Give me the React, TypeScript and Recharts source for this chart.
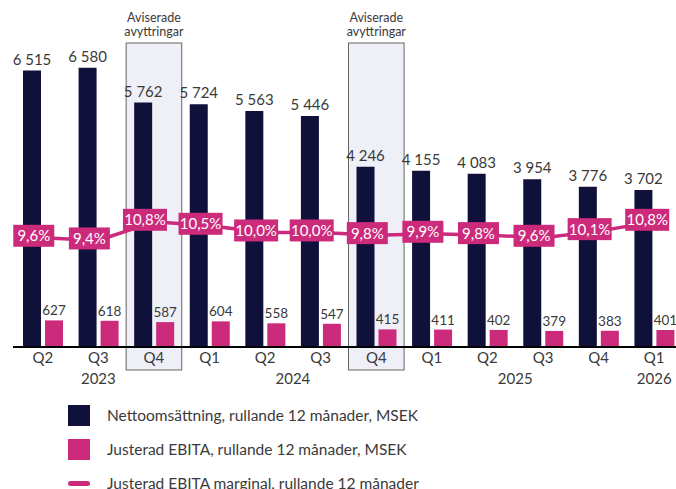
import React from "react";
import {
    ComposedChart,
    Bar,
    Line,
    XAxis,
    YAxis,
    LabelList,
    ReferenceArea,
    Legend,
} from "recharts";

const quarters = ["Q2", "Q3", "Q4", "Q1", "Q2", "Q3", "Q4", "Q1", "Q2", "Q3", "Q4", "Q1"];
const years = ["2023", "2023", "2023", "2024", "2024", "2024", "2024", "2025", "2025", "2025", "2025", "2026"];
const netSales = [6515, 6580, 5762, 5724, 5563, 5446, 4246, 4155, 4083, 3954, 3776, 3702];
const ebita = [627, 618, 587, 604, 558, 547, 415, 411, 402, 379, 383, 401];
const ebitaMargin = [9.6, 9.4, 10.8, 10.5, 10.0, 10.0, 9.8, 9.9, 9.8, 9.6, 10.1, 10.8];
const divested = ["Q4 2023", "Q4 2024"];
const legendLabels = [
    "Nettoomsättning, rullande 12 månader, MSEK",
    "Justerad EBITA, rullande 12 månader, MSEK",
    "Justerad EBITA marginal, rullande 12 månader",
];

const NAVY = "#10113b";
const PINK = "#cc2a7b";
const TEXT = "#3a3a3a";
const FONT = "Lato, 'Open Sans', sans-serif";

const data = quarters.map((q, i) => ({
    key: `${q} ${years[i]}`,
    quarter: q,
    year: years[i],
    sales: netSales[i],
    ebita: ebita[i],
    margin: ebitaMargin[i],
}));

const CHART_W = 686;
const M_LEFT = 13;
const M_RIGHT = 4;
const PAD_LEFT = 2;
const BAND = (CHART_W - M_LEFT - M_RIGHT - PAD_LEFT) / quarters.length;
const AXIS_Y = 347;

// space as thousands separator (non-breaking so the label does not wrap)
const fmtThousands = (v: number) =>
    v >= 1000 ? `${Math.floor(v / 1000)}\u00a0${String(v % 1000).padStart(3, "0")}` : String(v);
const fmtPct = (v: number) => `${v.toFixed(1).replace(".", ",")}%`;

const QuarterTick = (props: any) => {
    const { x, payload } = props;
    const i = payload.index;
    const y = years[i];
    const first = years.indexOf(y);
    const last = years.lastIndexOf(y);
    return (
        <g>
            <text x={x} y={AXIS_Y + 16} textAnchor="middle" fontSize={15} fill={TEXT} fontFamily={FONT}>
                {quarters[i]}
            </text>
            {i === first && (
                <text
                    x={x + ((last - first) / 2) * BAND}
                    y={AXIS_Y + 37}
                    textAnchor="middle"
                    fontSize={15}
                    fill={TEXT}
                    fontFamily={FONT}
                >
                    {y}
                </text>
            )}
        </g>
    );
};

const DivestBox = (props: any) => {
    const { x, y, width, height } = props;
    return (
        <g>
            <rect x={x} y={y} width={width} height={height} fill="#efeff8" stroke="#666" strokeWidth={1} />
            <text x={x + width / 2} y={y - 21} textAnchor="middle" fontSize={12.5} fill={TEXT} fontFamily={FONT}>
                Aviserade
            </text>
            <text x={x + width / 2} y={y - 7} textAnchor="middle" fontSize={12.5} fill={TEXT} fontFamily={FONT}>
                avyttringar
            </text>
        </g>
    );
};

const MarginLabel = (props: any) => {
    const { x, y, value, index } = props;
    const label = fmtPct(value);
    const w = label.length > 4 ? 44 : 41;
    const cx = index === quarters.length - 1 ? x - 7 : x - 9;
    const cy = y - 2;
    return (
        <g>
            <rect x={cx - w / 2} y={cy - 11} width={w} height={22} fill={PINK} />
            <text x={cx} y={cy + 5.5} textAnchor="middle" fontSize={15} fill="#fff" fontFamily={FONT}>
                {label}
            </text>
        </g>
    );
};

const LegendContent = () => (
    <div style={{ fontFamily: FONT, fontSize: 15.5, color: TEXT }}>
        {legendLabels.map((label, i) => (
            <div key={label} style={{ display: "flex", alignItems: "center", height: 34 }}>
                {i < 2 ? (
                    <div style={{ width: 22, height: 21, background: i === 0 ? NAVY : PINK }} />
                ) : (
                    <div style={{ width: 22, height: 5, borderRadius: 3, background: PINK }} />
                )}
                <span style={{ marginLeft: 17 }}>{label}</span>
            </div>
        ))}
    </div>
);

const App: React.FC = () => {
    return (
        <div style={{ position: "absolute", left: 0, top: 0, width: 676, height: 489, overflow: "hidden", background: "#fff" }}>
            <ComposedChart
                width={CHART_W}
                height={489}
                data={data}
                margin={{ top: 50, right: M_RIGHT, bottom: 112, left: M_LEFT }}
                barSize={18}
                barGap={4}
            >
                {divested.map((k) => (
                    <ReferenceArea
                        key={k}
                        yAxisId="left"
                        x1={k}
                        x2={k}
                        y1={-542}
                        y2={7165}
                        ifOverflow="visible"
                        shape={<DivestBox />}
                    />
                ))}
                <XAxis
                    dataKey="key"
                    height={30}
                    tickLine={false}
                    axisLine={{ stroke: "#000", strokeWidth: 2 }}
                    padding={{ left: PAD_LEFT, right: 0 }}
                    tick={<QuarterTick />}
                    interval={0}
                />
                <YAxis yAxisId="left" hide domain={[0, 7000]} />
                <YAxis yAxisId="right" hide orientation="right" domain={[1.4, 23.7]} />
                <Bar yAxisId="left" dataKey="sales" fill={NAVY} isAnimationActive={false}>
                    <LabelList
                        dataKey="sales"
                        position="top"
                        offset={6}
                        formatter={(v: any) => fmtThousands(Number(v))}
                        style={{ fontSize: 15, fill: TEXT, fontFamily: FONT }}
                    />
                </Bar>
                <Bar yAxisId="left" dataKey="ebita" fill={PINK} isAnimationActive={false}>
                    <LabelList
                        dataKey="ebita"
                        position="top"
                        offset={5}
                        style={{ fontSize: 13.5, fill: TEXT, fontFamily: FONT }}
                    />
                </Bar>
                <Line
                    yAxisId="right"
                    dataKey="margin"
                    stroke={PINK}
                    strokeWidth={3.5}
                    dot={false}
                    activeDot={false}
                    isAnimationActive={false}
                >
                    <LabelList dataKey="margin" content={<MarginLabel />} />
                </Line>
                <Legend
                    layout="horizontal"
                    verticalAlign="middle"
                    align="center"
                    wrapperStyle={{ top: 398, left: 68, width: 560 }}
                    content={<LegendContent />}
                />
            </ComposedChart>
        </div>
    );
};

export default App;
